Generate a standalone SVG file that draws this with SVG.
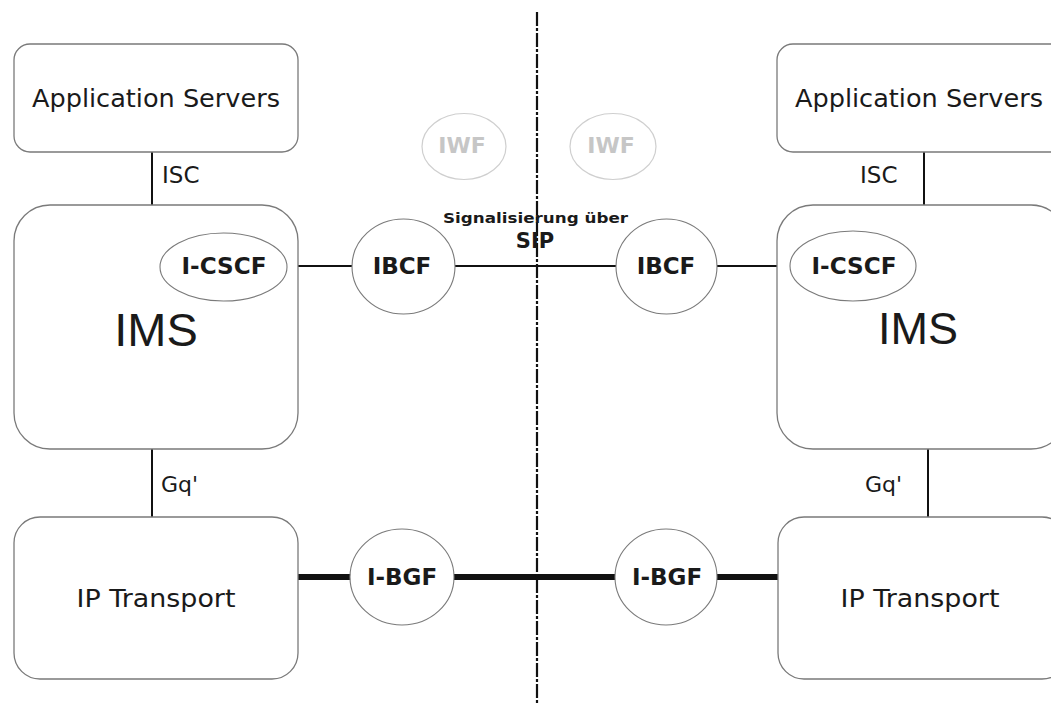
<svg xmlns="http://www.w3.org/2000/svg" width="1051" height="705" viewBox="0 0 1051 705">
<style>
.box{fill:#fff;stroke:#7a7a7a;stroke-width:1.3}
.fn{fill:#fff;stroke:#7a7a7a;stroke-width:1.1}
.iwf{fill:none;stroke:#cfcfcf;stroke-width:1.2}
.t{font-family:"DejaVu Sans",Verdana,sans-serif;fill:#1a1a1a}
.b{font-weight:bold}
.ln{stroke:#111;stroke-width:2;fill:none}
.thick{stroke:#111;stroke-width:6;fill:none}
</style>
<rect width="1051" height="705" fill="#fff"/>
<g id="connectors">
<line class="ln" x1="152" y1="152" x2="152" y2="206"/>
<line class="ln" x1="924" y1="152" x2="924" y2="206"/>
<line class="ln" x1="152" y1="449" x2="152" y2="517"/>
<line class="ln" x1="928" y1="449" x2="928" y2="517"/>
<line class="ln" x1="287" y1="266" x2="352" y2="266"/>
<line class="ln" x1="455" y1="266" x2="616" y2="266"/>
<line class="ln" x1="717" y1="266" x2="790" y2="266"/>
<line class="thick" x1="298" y1="577" x2="351" y2="577"/>
<line class="thick" x1="454" y1="577" x2="615" y2="577"/>
<line class="thick" x1="717" y1="577" x2="778" y2="577"/>
<line stroke="#111" stroke-width="2.2" stroke-dasharray="14 2 3 2" x1="537" y1="12" x2="537" y2="705"/>
</g>
<g id="as-left"><rect class="box" x="14" y="44" width="284" height="108" rx="16"/>
<text class="t" x="156" y="107" font-size="24" text-anchor="middle" textLength="248" lengthAdjust="spacingAndGlyphs">Application Servers</text></g>
<g id="as-right"><rect class="box" x="777" y="44" width="290" height="108" rx="16"/>
<text class="t" x="919" y="107" font-size="24" text-anchor="middle" textLength="248" lengthAdjust="spacingAndGlyphs">Application Servers</text></g>
<g id="isc-left"><text class="t" x="162" y="183" font-size="23">ISC</text></g>
<g id="isc-right"><text class="t" x="860" y="183" font-size="23">ISC</text></g>
<g id="ims-left"><rect class="box" x="14" y="205" width="284" height="244" rx="36"/>
<text class="t" x="156" y="346" font-size="47" text-anchor="middle" font-family="Liberation Sans" style="font-family:'Liberation Sans',Arial,sans-serif">IMS</text></g>
<g id="ims-right"><rect class="box" x="777" y="205" width="290" height="244" rx="36"/>
<text class="t" x="918" y="344" font-size="45" text-anchor="middle" style="font-family:'Liberation Sans',Arial,sans-serif">IMS</text></g>
<g id="icscf-left"><ellipse class="fn" cx="223.5" cy="267" rx="63.5" ry="34"/>
<text class="t b" x="224" y="274" font-size="23" text-anchor="middle" textLength="85" lengthAdjust="spacingAndGlyphs">I-CSCF</text></g>
<g id="icscf-right"><ellipse class="fn" cx="853" cy="266" rx="63" ry="35"/>
<text class="t b" x="854" y="274" font-size="23" text-anchor="middle" textLength="85" lengthAdjust="spacingAndGlyphs">I-CSCF</text></g>
<g id="ibcf-left"><ellipse class="fn" cx="403.5" cy="266.5" rx="51.5" ry="47.5"/>
<text class="t b" x="402" y="274" font-size="23" text-anchor="middle">IBCF</text></g>
<g id="ibcf-right"><ellipse class="fn" cx="666.5" cy="266.5" rx="50.5" ry="47.5"/>
<text class="t b" x="666" y="274" font-size="23" text-anchor="middle">IBCF</text></g>
<g id="iwf-left"><ellipse class="iwf" cx="464" cy="146.5" rx="42" ry="33"/>
<text class="t b" x="462" y="153" font-size="22" text-anchor="middle" style="fill:#c6c6c6">IWF</text></g>
<g id="iwf-right"><ellipse class="iwf" cx="613" cy="146.5" rx="43" ry="33"/>
<text class="t b" x="611" y="153" font-size="22" text-anchor="middle" style="fill:#c6c6c6">IWF</text></g>
<g id="sip-label"><text class="t b" x="535.5" y="223" font-size="14.5" text-anchor="middle" textLength="185" lengthAdjust="spacingAndGlyphs">Signalisierung über</text>
<text class="t b" x="535" y="248" font-size="21" text-anchor="middle">SIP</text></g>
<g id="gq-left"><text class="t" x="161" y="492" font-size="22">Gq'</text></g>
<g id="gq-right"><text class="t" x="865" y="492" font-size="22">Gq'</text></g>
<g id="ip-left"><rect class="box" x="14" y="517" width="284" height="162" rx="26"/>
<text class="t" x="156" y="607" font-size="25" text-anchor="middle" textLength="159" lengthAdjust="spacingAndGlyphs">IP Transport</text></g>
<g id="ip-right"><rect class="box" x="778" y="517" width="290" height="162" rx="26"/>
<text class="t" x="920" y="607" font-size="25" text-anchor="middle" textLength="159" lengthAdjust="spacingAndGlyphs">IP Transport</text></g>
<g id="ibgf-left"><ellipse class="fn" cx="402" cy="577" rx="52" ry="48"/>
<text class="t b" x="402" y="585" font-size="23" text-anchor="middle">I-BGF</text></g>
<g id="ibgf-right"><ellipse class="fn" cx="666" cy="577" rx="51" ry="48"/>
<text class="t b" x="667" y="585" font-size="23" text-anchor="middle">I-BGF</text></g>
</svg>
